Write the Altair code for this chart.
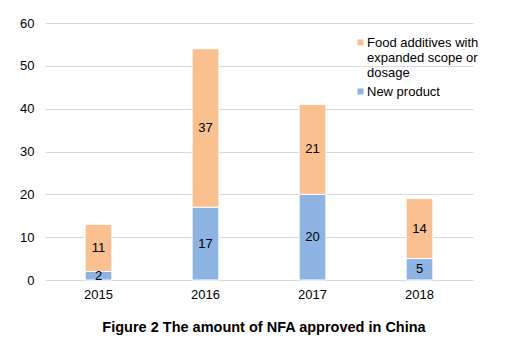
import altair as alt
import pandas as pd

years = ["2015", "2016", "2017", "2018"]
new_product = [2, 17, 20, 5]
food_additives = [11, 37, 21, 14]
series_names = ["Food additives with expanded scope or dosage", "New product"]
colors = ["#FAC090", "#8DB4E2"]

rows = []
for y, n, f in zip(years, new_product, food_additives):
    rows.append({"year": y, "series": series_names[1], "value": n, "order": 0})
    rows.append({"year": y, "series": series_names[0], "value": f, "order": 1})
df = pd.DataFrame(rows)

FS = 13

base = alt.Chart(df).encode(
    x=alt.X("year:N", title=None, sort=years,
            scale=alt.Scale(paddingInner=0.75, paddingOuter=0.375),
            axis=alt.Axis(labelAngle=0, domain=False, ticks=False, labelPadding=8,
                          labelFont="Liberation Sans", labelFontSize=FS, labelColor="#000000")),
)

bars = base.mark_bar(stroke="white", strokeWidth=1).encode(
    y=alt.Y("sum(value):Q", title=None, stack="zero",
            scale=alt.Scale(domain=[0, 60]),
            axis=alt.Axis(values=[0, 10, 20, 30, 40, 50, 60], domain=False, ticks=False,
                          labelPadding=11, gridColor="#D9D9D9", gridWidth=1,
                          labelFont="Liberation Sans", labelFontSize=FS, labelColor="#000000")),
    color=alt.Color("series:N", sort=series_names,
                    scale=alt.Scale(domain=series_names, range=colors),
                    legend=alt.Legend(title=None, orient="none", legendX=309, legendY=13,
                                      symbolType="square", symbolSize=36, symbolStrokeWidth=0,
                                      labelFont="Liberation Sans", labelFontSize=FS,
                                      labelOffset=0,
                                      labelColor="#000000", labelLimit=200, rowPadding=5,
                                      labelExpr="datum.label == 'New product' ? datum.label : ['Food additives with', 'expanded scope or', 'dosage']")),
    order=alt.Order("order:Q"),
)

labels = base.mark_text(font="Liberation Sans", fontSize=FS, color="#000000").encode(
    y=alt.Y("mid:Q", stack=None),
    text=alt.Text("value:Q"),
).transform_stack(
    stack="value", groupby=["year"], as_=["v0", "v1"], sort=[alt.SortField("order")]
).transform_calculate(mid="(datum.v0 + datum.v1) / 2")

chart = alt.layer(bars, labels).properties(
    width=428, height=257,
    padding={"left": 45, "top": 23, "right": 36, "bottom": 67},
    autosize=alt.AutoSizeParams(type="none"),
    title=alt.TitleParams("Figure 2 The amount of NFA approved in China", orient="bottom",
                          font="Liberation Sans", fontSize=14.5, fontWeight="bold",
                          color="#000000", anchor="middle", offset=20, dx=5),
).configure_view(stroke=None)

chart.save("out.html", embed_options={"renderer": "svg", "actions": False})
